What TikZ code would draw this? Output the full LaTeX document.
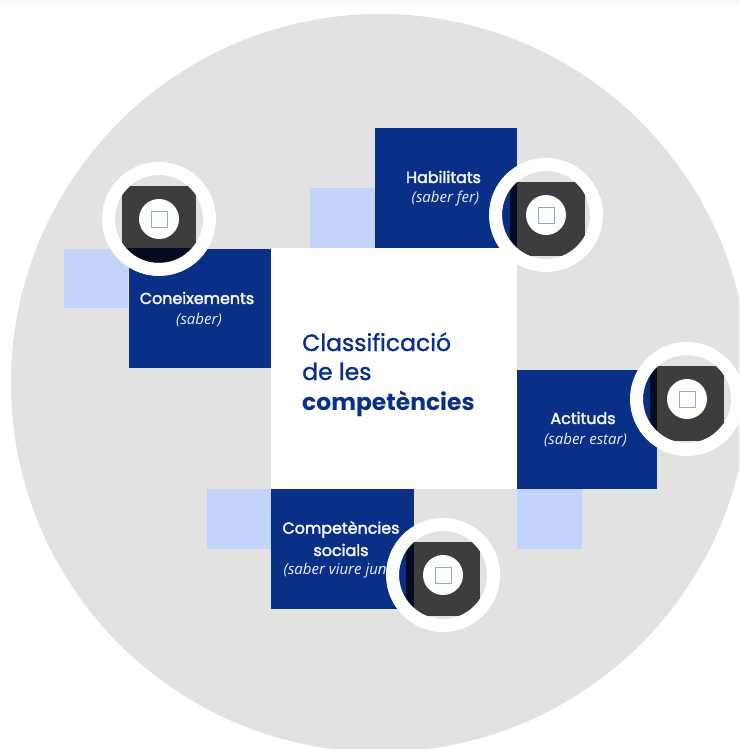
\documentclass[tikz,border=0pt]{standalone}
\usepackage{fontspec}
\setmainfont{Poppins}
\newfontfamily\itfont{Open Sans}
\newfontfamily\midfont[FakeBold=1.2]{Poppins}
\newfontfamily\semifont[FakeBold=2.4]{Poppins}
\definecolor{disc}{HTML}{E2E2E2}
\definecolor{navy}{HTML}{0A2F87}
\definecolor{pale}{HTML}{C2D4FB}
\definecolor{strip}{HTML}{F8F8FF}
\definecolor{darkbox}{HTML}{3D3D3D}
\definecolor{blackbar}{HTML}{030B20}
\definecolor{squareline}{HTML}{8FA6E0}
\tikzset{
  card/.style={fill=navy,draw=none},
  back/.style={fill=pale,draw=none},
  cardtext/.style={text=white!95!navy,font=\semifont\fontsize{15.9}{21}\selectfont,align=center,inner sep=0pt},
  subtext/.style={text=white!92!navy,font=\itfont\itshape\fontsize{15}{18}\selectfont,inner sep=0pt},
  headtext/.style={anchor=base west,text=navy,inner sep=0pt},
  ring/.style={circle,draw=white,line width=13pt,minimum size=101pt,inner sep=0pt},
  hub/.style={circle,fill=white,minimum size=40pt,inner sep=0pt},
  tick/.style={draw=squareline,line width=.8pt,fill=white,minimum size=16pt,inner sep=0pt},
}
\begin{document}
\begin{tikzpicture}[x=1pt,y=-1pt]
\useasboundingbox (0,0) rectangle (739,749);
\fill[white] (0,0) rectangle (739,749);
\fill[strip] (0,0) rectangle (739,5);
\begin{scope}
\clip (0,0) rectangle (739,749);
\fill[disc] (380,383) circle (369);
\end{scope}
% pale backing squares
\fill[back] (64,249) rectangle (128,308);
\fill[back] (310,188) rectangle (375,248);
\fill[back] (207,489) rectangle (271,549);
\fill[back] (517,489) rectangle (582,549);
% cards
\fill[card] (128.5,249) rectangle (271,368);
\fill[card] (375,128) rectangle (517,248);
\fill[card] (517,370) rectangle (657,489);
\fill[card] (271,489) rectangle (414,609);
\fill[white] (271,248) rectangle (517,489);
% texts
\node[cardtext] (t1) at (197,298) {Coneixements};
\node[subtext] (s1) at (199,320) {(saber)};
\node[cardtext] (t2) at (443.5,177) {Habilitats};
\node[subtext] (s2) at (445.5,199) {(saber fer)};
\node[cardtext] (t3) at (583,418) {Actituds};
\node[subtext] (s3) at (585.5,440) {(saber estar)};
\node[cardtext] (t4) at (341,529.5) {Competències};
\node[cardtext] (t5) at (341,550) {socials};
\node[subtext] (s4) at (343,571) {(saber viure junts)};
\node[headtext,font=\midfont\fontsize{23.5}{28}\selectfont] (c1) at (302,351) {Classificació};
\node[headtext,font=\midfont\fontsize{23.5}{28}\selectfont] (c2) at (302,380) {de les};
\node[headtext,font=\bfseries\fontsize{23.4}{28}\selectfont] (c3) at (302,410) {competències};
% icon 1: Coneixements
\begin{scope}
\clip (159,219) circle (44);
\fill[disc] (159,219) circle (44);
\fill[card] (128.5,249) rectangle (271,368);
\fill[back] (64,249) rectangle (128.5,308);
\fill[darkbox] (122,186) rectangle (196,248);
\fill[blackbar] (122,248) rectangle (196,262);
\end{scope}
\node[ring] (r1) at (159,219) {};
\node[hub] (h1) at (159,219) {};
\node[tick] (q1) at (159,219) {};
% icon 2: Habilitats
\begin{scope}
\clip (546,215) circle (44);
\fill[disc] (546,215) circle (44);
\fill[card] (375,128) rectangle (517,248);
\fill[white] (271,248) rectangle (517,489);
\fill[blackbar] (510,182) rectangle (517,256);
\fill[darkbox] (517,182) rectangle (585,256);
\end{scope}
\node[ring] (r2) at (546,215) {};
\node[hub] (h2) at (546,215) {};
\node[tick] (q2) at (546,215) {};
% icon 3: Actituds
\begin{scope}
\clip (687,399) circle (44);
\fill[disc] (687,399) circle (44);
\fill[card] (517,370) rectangle (657,489);
\fill[blackbar] (650,366) rectangle (657,441);
\fill[darkbox] (657,366) rectangle (724,441);
\end{scope}
\node[ring] (r3) at (687,399) {};
\node[hub] (h3) at (687,399) {};
\node[tick] (q3) at (687,399) {};
% icon 4: Competencies socials
\begin{scope}
\clip (443,575) circle (44);
\fill[disc] (443,575) circle (44);
\fill[card] (271,489) rectangle (414,609);
\fill[blackbar] (406,542) rectangle (414,616);
\fill[darkbox] (414,542) rectangle (480,616);
\end{scope}
\node[ring] (r4) at (443,575) {};
\node[hub] (h4) at (443,575) {};
\node[tick] (q4) at (443,575) {};
\end{tikzpicture}
\end{document}
